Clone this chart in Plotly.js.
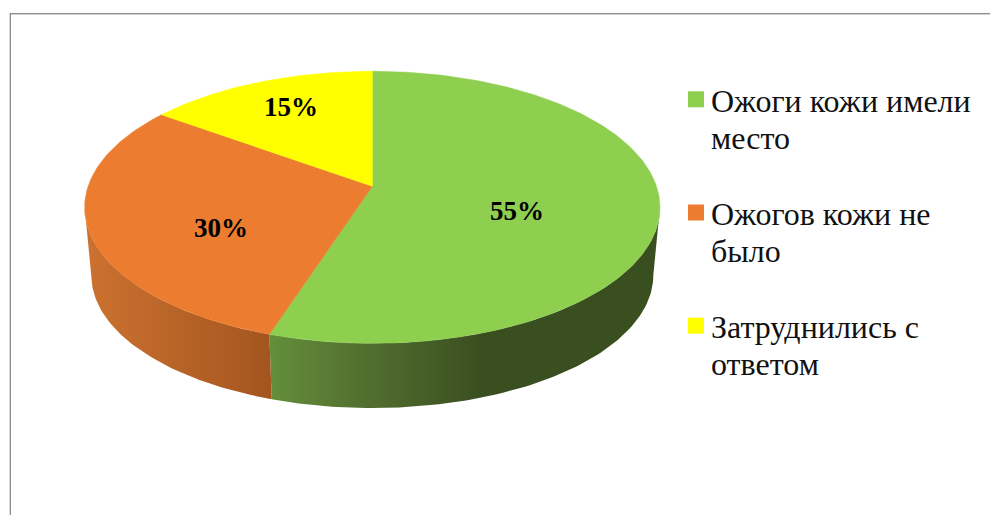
<!DOCTYPE html>
<html lang="ru">
<head>
<meta charset="utf-8">
<script src="https://cdn.plot.ly/plotly-3.0.1.min.js"></script>
<style>html,body{margin:0;padding:0;background:#fff;overflow:hidden}</style>
</head>
<body>
<div id="chart" style="width:990px;height:515px"></div>
<script>
const categories = ['Ожоги кожи имели<br>место', 'Ожогов кожи не<br>было', 'Затруднились с<br>ответом'];
const percents = [55, 30, 15];
const topColors = ['#8FCF50', '#EC7C30', '#FFFF00'];
const wallScales = [
  [[0, '#648F3A'], [0.23, '#537030'], [0.54, '#3A4F20'], [1, '#3A4F20']],
  [[0, '#CC7230'], [1, '#A3551F']],
  null
];

// Projection of the pie's tilted disc on to the page
const view = {cx: 372.3, topApexY: 186.3, baseApexY: 254.6, A: 284.2, B: 132.8, k: 0.1544, baseScale: 0.977};
function project(turn, radius, apexY, scale) {
  const t = turn * 2 * Math.PI;
  const u = Math.sin(t) * radius, v = Math.cos(t) * radius;
  const d = 1 + view.k * v;
  return [view.cx + scale * view.A * u / d, apexY - scale * view.B * v / d];
}
function arc(from, to, apexY, scale) {
  const n = Math.max(2, Math.ceil(Math.abs(to - from) * 360));
  const pts = [];
  for (let i = 0; i <= n; i++) pts.push(project(from + (to - from) * i / n, 1, apexY, scale));
  return pts;
}
const rim = Math.acos(-view.k) / (2 * Math.PI);   // where the disc's outline turns from front to back
const total = percents.reduce((a, b) => a + b, 0);
const traces = [], tops = [];
let run = 0;
percents.forEach((p, i) => {
  const a = run / total, b = (run + p) / total;
  run += p;
  // side wall: only the part of the slice that faces the viewer
  const wa = Math.max(a, rim), wb = Math.min(b, 1 - rim);
  if (wallScales[i] && wb > wa) {
    const pts = arc(wa, wb, view.topApexY, 1).concat(arc(wb, wa, view.baseApexY, view.baseScale));
    pts.push(pts[0]);
    traces.push({
      x: pts.map(q => q[0]), y: pts.map(q => q[1]), mode: 'lines', line: {width: 0},
      fill: 'toself', fillgradient: {type: 'horizontal', colorscale: wallScales[i]},
      showlegend: false, hoverinfo: 'skip'
    });
  }
  const pts = [[view.cx, view.topApexY]].concat(arc(a, b, view.topApexY, 1));
  pts.push(pts[0]);
  tops.push({
    x: pts.map(q => q[0]), y: pts.map(q => q[1]), mode: 'lines', line: {width: 0.5, color: topColors[i]},
    fill: 'toself', fillcolor: topColors[i], showlegend: false, hoverinfo: 'skip'
  });
});
const legendTraces = categories.map((c, i) => ({
  x: [null], y: [null], name: c, legendgroup: 'g' + i, mode: 'markers',
  marker: {symbol: 'square', size: 16, color: topColors[i]}, hoverinfo: 'skip'
}));

const labelAt = [[517, 210.5], [220.5, 227.5], [291, 106.5]];
const layout = {
  width: 990, height: 515,
  margin: {l: 0, r: 0, t: 0, b: 0},
  paper_bgcolor: '#fff', plot_bgcolor: '#fff',
  xaxis: {range: [0, 990], visible: false, fixedrange: true},
  yaxis: {range: [515, 0], visible: false, fixedrange: true},
  font: {family: '"Liberation Serif", serif', color: '#111'},
  legend: {
    x: 682 / 990, y: 1 - 72 / 515, xanchor: 'left', yanchor: 'top',
    font: {family: '"Liberation Serif", serif', size: 32, color: '#111'},
    tracegroupgap: 27, valign: 'top', indentation: -11, itemclick: false, itemdoubleclick: false,
    bgcolor: 'rgba(0,0,0,0)'
  },
  shapes: [
    {type: 'line', xref: 'x', yref: 'y', x0: 10.5, x1: 10.5, y0: 13, y1: 515, line: {color: '#8C8C8C', width: 1}},
    {type: 'line', xref: 'x', yref: 'y', x0: 9.5, x1: 9.5, y0: 13, y1: 515, line: {color: '#D8D8D8', width: 1}},
    {type: 'line', xref: 'x', yref: 'y', x0: 10, x1: 990, y0: 13.5, y1: 13.5, line: {color: '#8C8C8C', width: 1}},
    {type: 'line', xref: 'x', yref: 'y', x0: 11, x1: 990, y0: 14.5, y1: 14.5, line: {color: '#D0D0D0', width: 1}}
  ],
  annotations: percents.map((p, i) => ({
    x: labelAt[i][0], y: labelAt[i][1], xref: 'x', yref: 'y', text: '<b>' + p + '%</b>',
    showarrow: false, xanchor: 'center', yanchor: 'middle',
    font: {family: '"Liberation Serif", serif', size: 27, color: '#000'}
  }))
};
const swatchLeft = 688, swatchSize = 16;
Plotly.newPlot('chart', traces.concat(tops, legendTraces), layout, {staticPlot: true, displayModeBar: false}).then(gd => {
  // the reference's legend lines sit tighter than Plotly's 1.3 line spacing
  gd.querySelectorAll('.legendtext tspan.line').forEach((t, i) => {
    if (i % 2 === 1) t.setAttribute('dy', '37px');
  });
  // and its swatches sit closer to the text
  gd.querySelectorAll('.legendpoints').forEach(g => {
    const r = g.getBoundingClientRect(), b = g.getBBox();
    if (!r.width) return;
    const s = swatchSize / r.width;
    const tx = swatchLeft - s * b.x - (r.left - b.x);
    const cyScreen = r.top + r.height / 2, cy = b.y + b.height / 2;
    const ty = cyScreen - (r.top - b.y) - s * cy;
    g.setAttribute('transform', 'translate(' + tx + ',' + ty + ') scale(' + s + ')');
  });
});
</script>
</body>
</html>
